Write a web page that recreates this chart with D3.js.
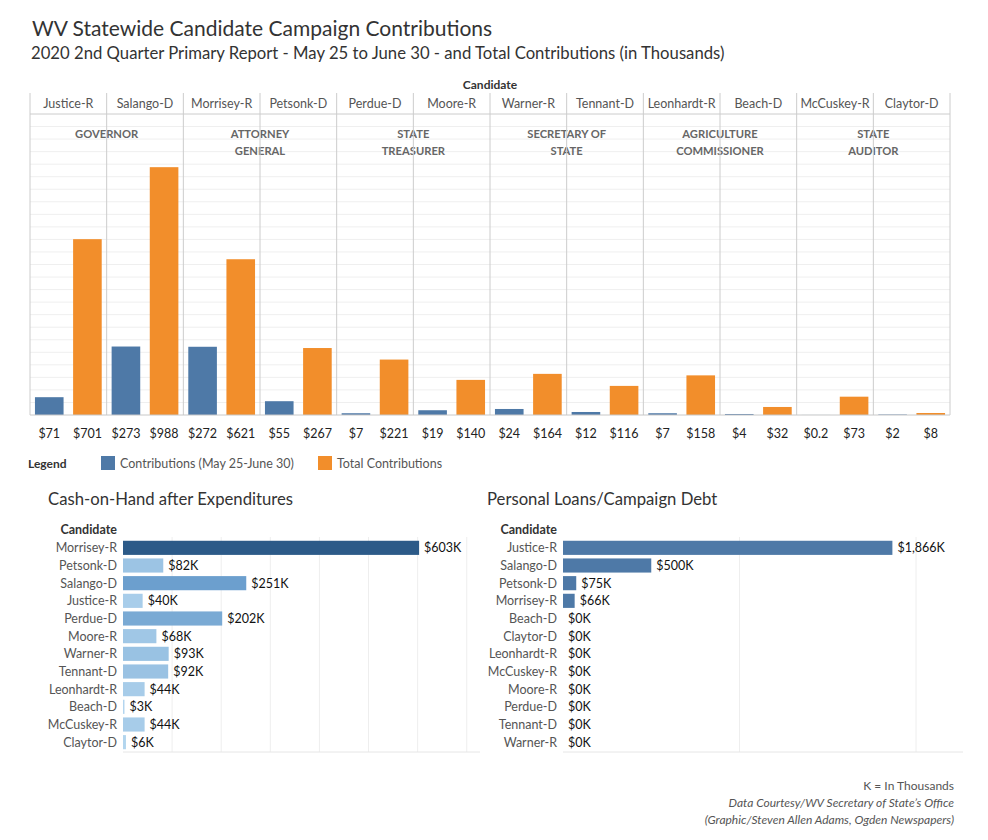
<!DOCTYPE html>
<html>
<head>
<meta charset="utf-8">
<script src="https://cdn.jsdelivr.net/npm/d3@7"></script>
<style>
  body { margin: 0; background: #fff; }
  svg text { font-family: Lato, "Noto Sans", sans-serif; }
</style>
</head>
<body>
<svg id="chart"></svg>
<script>
const svgWidth = 988, svgHeight = 840;

// top chart data
const candidates = ["Justice-R","Salango-D","Morrisey-R","Petsonk-D","Perdue-D","Moore-R",
                    "Warner-R","Tennant-D","Leonhardt-R","Beach-D","McCuskey-R","Claytor-D"];
const offices = [["GOVERNOR"],["ATTORNEY","GENERAL"],["STATE","TREASURER"],
                 ["SECRETARY OF","STATE"],["AGRICULTURE","COMMISSIONER"],["STATE","AUDITOR"]];
const periodContrib = [71,273,272,55,7,19,24,12,7,4,0.2,2];
const totalContrib  = [701,988,621,267,221,140,164,116,158,32,73,8];
const seriesNames = ["Contributions (May 25-June 30)","Total Contributions"];

// cash-on-hand
const cashCandidates = ["Morrisey-R","Petsonk-D","Salango-D","Justice-R","Perdue-D","Moore-R",
                        "Warner-R","Tennant-D","Leonhardt-R","Beach-D","McCuskey-R","Claytor-D"];
const cashValues = [603,82,251,40,202,68,93,92,44,3,44,6];

// loans / debt
const debtCandidates = ["Justice-R","Salango-D","Petsonk-D","Morrisey-R","Beach-D","Claytor-D",
                        "Leonhardt-R","McCuskey-R","Moore-R","Perdue-D","Tennant-D","Warner-R"];
const debtValues = [1866,500,75,66,0,0,0,0,0,0,0,0];

const blue = "#4e79a7", orange = "#f28e2b";

const chart = d3.select("#chart").attr("width", svgWidth).attr("height", svgHeight);

// titles
chart.append("text").attr("x", 32).attr("y", 36)
    .style("font-size", "21px").style("fill", "#333")
    .text("WV Statewide Candidate Campaign Contributions");
chart.append("text").attr("x", 31).attr("y", 59)
    .style("font-size", "16.7px").style("fill", "#333")
    .text("2020 2nd Quarter Primary Report - May 25 to June 30 - and Total Contributions (in Thousands)");

// ---------- top chart ----------
const top0 = 93, headBottom = 114, base = 415, left = 30, right = 950;

var xScale = d3.scaleBand().domain(candidates).range([left, right]);
var xInner = d3.scaleBand().domain([0, 1]).range([0, xScale.bandwidth()])
    .paddingInner(0.25).paddingOuter(0.13);
var yScale = d3.scaleLinear().domain([0, 1200]).range([base, headBottom]);

const mainChart = chart.append("g");

// gridlines
mainChart.append("g").selectAll("line")
    .data(d3.range(50, 1201, 50))
    .enter().append("line")
    .attr("x1", left).attr("x2", right)
    .attr("y1", d => yScale(d)).attr("y2", d => yScale(d))
    .style("stroke", "#efefef");

// header
chart.append("text").attr("x", (left + right) / 2).attr("y", 89)
    .attr("text-anchor", "middle").style("font-size", "12px").style("font-weight", "bold")
    .style("fill", "#333").text("Candidate");

mainChart.selectAll(".cname")
    .data(candidates).enter().append("text")
    .attr("class", "cname")
    .attr("x", d => xScale(d) + xScale.bandwidth() / 2)
    .attr("y", 108)
    .attr("text-anchor", "middle")
    .style("font-size", "12.5px").style("fill", "#555")
    .text(d => d);

mainChart.append("line").attr("x1", left).attr("x2", right)
    .attr("y1", headBottom).attr("y2", headBottom).style("stroke", "#d4d4d4");

// office labels
offices.forEach(function(lines, i) {
    const cx = xScale(candidates[i * 2]) + xScale.bandwidth();
    lines.forEach(function(t, j) {
        mainChart.append("text").attr("x", cx).attr("y", 138 + j * 16.5)
            .attr("text-anchor", "middle")
            .style("font-size", "11.2px").style("font-weight", "bold").style("fill", "#666")
            .text(t);
    });
});

// bars
const barData = [];
candidates.forEach(function(c, i) {
    barData.push({c: c, s: 0, v: periodContrib[i]});
    barData.push({c: c, s: 1, v: totalContrib[i]});
});

mainChart.append("g").selectAll("rect")
    .data(barData).enter().append("rect")
    .attr("x", d => xScale(d.c) + xInner(d.s))
    .attr("width", xInner.bandwidth())
    .attr("y", d => yScale(d.v))
    .attr("height", d => base - yScale(d.v))
    .style("fill", d => d.s == 0 ? blue : orange);

mainChart.append("g").selectAll("text")
    .data(barData).enter().append("text")
    .attr("x", d => xScale(d.c) + xInner(d.s) + xInner.bandwidth() / 2)
    .attr("y", 438)
    .attr("text-anchor", "middle")
    .style("font-size", "12.5px").style("fill", "#222")
    .text(d => "$" + d.v);

// column separators
mainChart.append("g").selectAll("line")
    .data(candidates.concat(["end"])).enter().append("line")
    .attr("x1", d => d == "end" ? right : xScale(d))
    .attr("x2", d => d == "end" ? right : xScale(d))
    .attr("y1", top0).attr("y2", base)
    .style("stroke", "#cccccc");

mainChart.append("line").attr("x1", left).attr("x2", right)
    .attr("y1", base).attr("y2", base).style("stroke", "#c8c8c8");

// legend
const legend = chart.append("g");
legend.append("text").attr("x", 28).attr("y", 468)
    .style("font-size", "12px").style("font-weight", "bold").style("fill", "#333").text("Legend");
const legendX = [101, 318];
seriesNames.forEach(function(n, i) {
    legend.append("rect").attr("x", legendX[i]).attr("y", 456).attr("width", 14).attr("height", 14)
        .style("fill", i == 0 ? blue : orange);
    legend.append("text").attr("x", legendX[i] + 19).attr("y", 468)
        .style("font-size", "12.5px").style("fill", "#555").text(n);
});

// ---------- bottom charts ----------
function drawHBar(opt) {
    const g = chart.append("g");
    const x = d3.scaleLinear().domain(opt.domain).range([opt.x0, opt.x1]);
    const y = d3.scaleBand().domain(opt.names).range([539, 751]).paddingInner(0.2).paddingOuter(0.1);

    g.append("text").attr("x", opt.titleX).attr("y", 505)
        .style("font-size", "16.7px").style("fill", "#333").text(opt.title);
    g.append("text").attr("x", opt.x0 - 6).attr("y", 534).attr("text-anchor", "end")
        .style("font-size", "12.5px").style("font-weight", "bold").style("fill", "#333").text("Candidate");

    g.append("g").selectAll("line")
        .data(opt.ticks).enter().append("line")
        .attr("x1", d => x(d)).attr("x2", d => x(d))
        .attr("y1", 537).attr("y2", 752)
        .style("stroke", "#eeeeee");
    g.append("line").attr("x1", opt.x0).attr("x2", opt.x1)
        .attr("y1", 752).attr("y2", 752).style("stroke", "#e6e6e6");

    g.append("g").selectAll("text")
        .data(opt.names).enter().append("text")
        .attr("x", opt.x0 - 6)
        .attr("y", d => y(d) + y.bandwidth() / 2 + 4.5)
        .attr("text-anchor", "end")
        .style("font-size", "12.5px").style("fill", "#555")
        .text(d => d);

    g.append("g").selectAll("rect")
        .data(opt.values).enter().append("rect")
        .attr("x", x(0))
        .attr("y", (d, i) => y(opt.names[i]))
        .attr("width", d => x(d) - x(0))
        .attr("height", y.bandwidth())
        .style("fill", d => opt.color(d));

    g.append("g").selectAll(".val")
        .data(opt.values).enter().append("text")
        .attr("class", "val")
        .attr("x", d => x(d) + 5)
        .attr("y", (d, i) => y(opt.names[i]) + y.bandwidth() / 2 + 4.5)
        .style("font-size", "12.5px").style("fill", "#111")
        .text(d => "$" + d3.format(",")(d) + "K");
}

const cashColor = d3.scaleLinear().domain([0, 250, 603])
    .range(["#b4d6ef", "#6c9fce", "#2c5a88"]);

drawHBar({
    title: "Cash-on-Hand after Expenditures", titleX: 48,
    names: cashCandidates, values: cashValues,
    x0: 123, x1: 480, domain: [0, 727], ticks: d3.range(100, 701, 100),
    color: cashColor
});

drawHBar({
    title: "Personal Loans/Campaign Debt", titleX: 487,
    names: debtCandidates, values: debtValues,
    x0: 563, x1: 963, domain: [0, 2266], ticks: [1000, 2000],
    color: () => blue
});

// footer
const foot = ["K = In Thousands", "Data Courtesy/WV Secretary of State\u2019s Office",
              "(Graphic/Steven Allen Adams, Ogden Newspapers)"];
chart.append("g").selectAll("text")
    .data(foot).enter().append("text")
    .attr("x", 954).attr("y", (d, i) => 790 + i * 17)
    .attr("text-anchor", "end")
    .style("font-size", "12px").style("fill", "#555")
    .style("font-style", (d, i) => i == 0 ? "normal" : "italic")
    .text(d => d);
</script>
</body>
</html>
